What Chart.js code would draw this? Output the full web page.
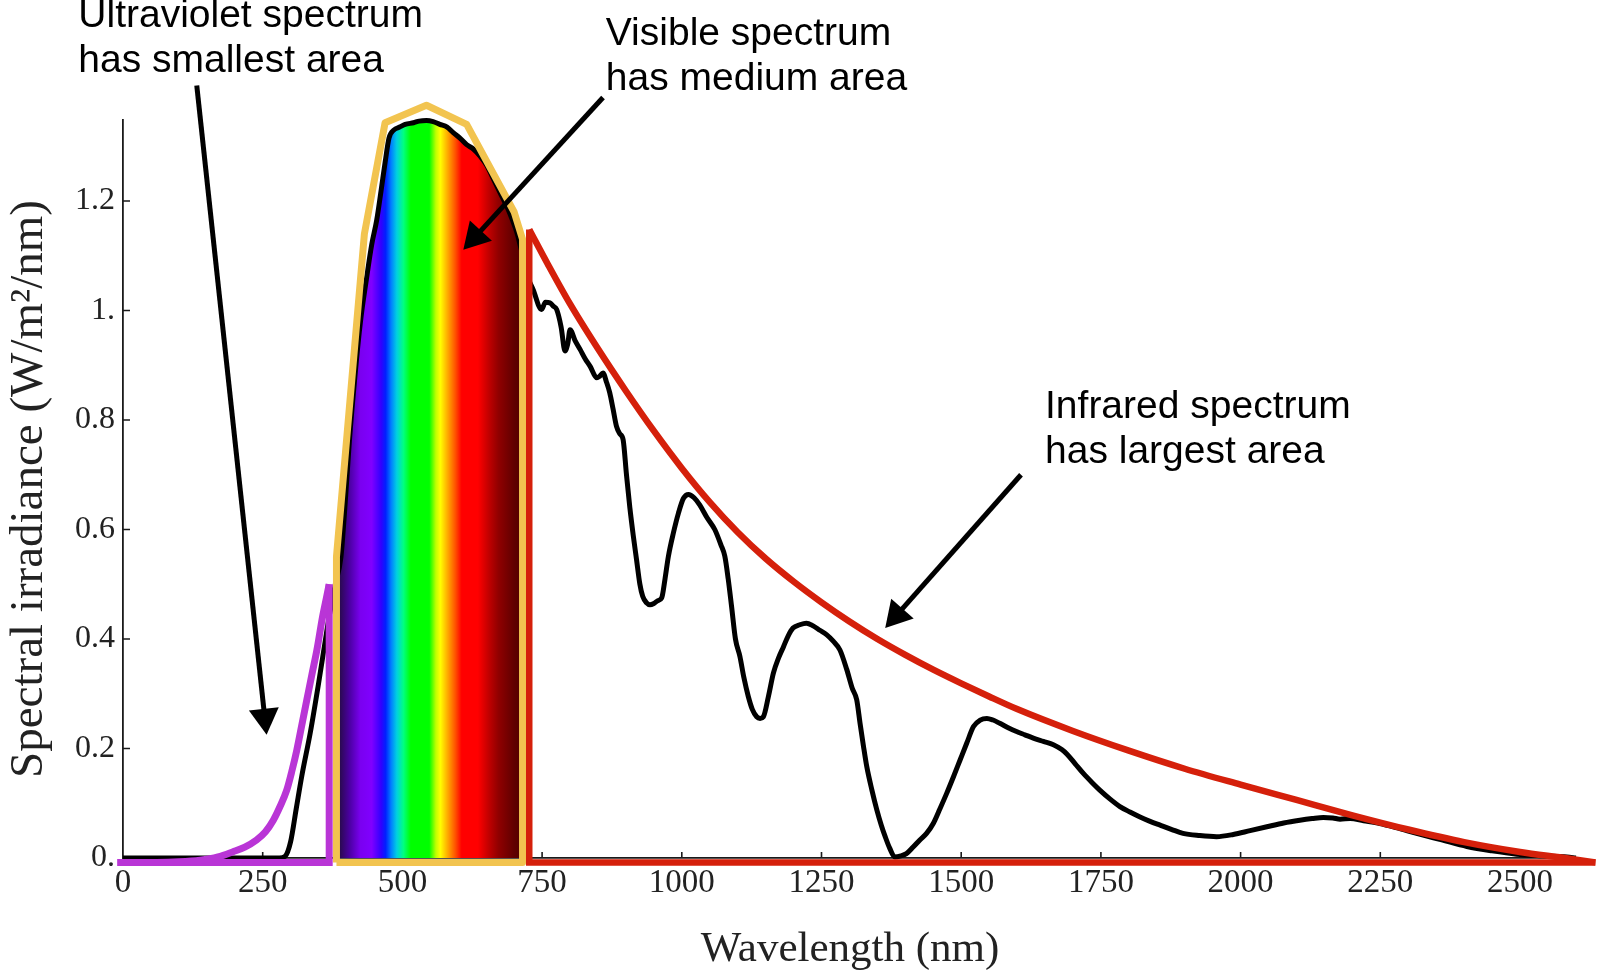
<!DOCTYPE html>
<html>
<head>
<meta charset="utf-8">
<title>Solar spectrum</title>
<script src="https://cdn.jsdelivr.net/npm/chart.js@4.4.1/dist/chart.umd.min.js"></script>
<style>
  html, body { margin: 0; padding: 0; background: #fff; }
</style>
</head>
<body>
<canvas id="spectrumChart" width="1600" height="971"></canvas>
<script>
// measured solar spectrum at sea level (black line)
const spectrumNm = [0, 100, 200, 280, 290, 300, 310, 320, 335, 350, 364, 370, 380, 390, 397, 405, 415, 425,
  436, 445, 454, 462, 469, 476, 485, 495, 505, 520, 530, 543, 555, 567, 580, 591, 603, 615, 627, 639, 651, 663,
  675, 687, 697, 705, 711, 718, 725, 734, 749, 756, 764, 770, 776, 784, 791, 796, 800, 809, 818, 827, 836, 848,
  853, 859, 865, 871, 877, 883, 889, 895, 901, 907, 913, 919, 925, 930, 937, 943, 950, 957, 964, 970, 976, 985,
  994, 1003, 1012, 1022, 1032, 1045, 1059, 1070, 1077, 1083, 1089, 1096, 1104, 1111, 1119, 1126, 1134, 1140,
  1146, 1155, 1164, 1173, 1182, 1190, 1199, 1211, 1223, 1235, 1247, 1259, 1271, 1283, 1295, 1305, 1313, 1319,
  1325, 1331, 1340, 1349, 1357, 1364, 1372, 1381, 1392, 1402, 1414, 1426, 1438, 1450, 1462, 1474, 1486, 1498,
  1510, 1522, 1534, 1546, 1557, 1569, 1584, 1599, 1614, 1629, 1647, 1665, 1680, 1689, 1704, 1719, 1734, 1748,
  1766, 1784, 1802, 1820, 1838, 1856, 1877, 1897, 1927, 1957, 1987, 2017, 2047, 2077, 2106, 2128, 2148, 2165,
  2178, 2196, 2220, 2249, 2280, 2315, 2360, 2405, 2450, 2494, 2540, 2584, 2600];
const spectrumIrr = [0, 0, 0, 0, 0.003, 0.03, 0.09, 0.15, 0.228, 0.319, 0.41, 0.447, 0.5, 0.55, 0.64, 0.76, 0.88, 0.98,
  1.06, 1.12, 1.165, 1.22, 1.27, 1.315, 1.33, 1.335, 1.34, 1.343, 1.346, 1.347, 1.345, 1.34, 1.335, 1.325, 1.315,
  1.303, 1.295, 1.282, 1.265, 1.24, 1.215, 1.19, 1.165, 1.142, 1.118, 1.09, 1.06, 1.038, 1.002, 1.015, 1.014,
  1.008, 1.002, 0.97, 0.926, 0.94, 0.965, 0.945, 0.929, 0.912, 0.898, 0.877, 0.88, 0.886, 0.87, 0.85, 0.82,
  0.789, 0.775, 0.764, 0.7, 0.64, 0.59, 0.545, 0.5, 0.478, 0.466, 0.4625, 0.465, 0.47, 0.475, 0.51, 0.551,
  0.594, 0.63, 0.657, 0.664, 0.658, 0.645, 0.622, 0.6, 0.572, 0.551, 0.51, 0.46, 0.4, 0.368, 0.33, 0.295,
  0.272, 0.258, 0.255, 0.258, 0.295, 0.338, 0.365, 0.386, 0.405, 0.42, 0.426, 0.429, 0.424, 0.416, 0.408,
  0.396, 0.38, 0.345, 0.31, 0.289, 0.246, 0.205, 0.167, 0.125, 0.088, 0.06, 0.039, 0.018, 0.002, 0.004, 0.008,
  0.02, 0.033, 0.045, 0.063, 0.09, 0.118, 0.148, 0.179, 0.21, 0.24, 0.252, 0.255, 0.252, 0.246, 0.238, 0.231,
  0.225, 0.219, 0.213, 0.207, 0.198, 0.19, 0.172, 0.154, 0.138, 0.124, 0.108, 0.094, 0.084, 0.075, 0.067,
  0.06, 0.052, 0.045, 0.041, 0.039, 0.043, 0.05, 0.057, 0.064, 0.069, 0.072, 0.074, 0.073, 0.071, 0.072,
  0.068, 0.063, 0.055, 0.045, 0.033, 0.021, 0.013, 0.007, 0.004, 0.002, 0];

// ultraviolet envelope (purple)
const uvCurveNm = [-10, 60, 100, 138, 170, 197, 218, 239, 255, 269, 281, 293, 302, 311, 320, 329, 338, 347, 357, 364, 369];
const uvCurveIrr = [-0.008, -0.008, -0.007, -0.004, 0.002, 0.0115, 0.02, 0.033, 0.048, 0.069, 0.094, 0.124, 0.158,
  0.197, 0.243, 0.289, 0.335, 0.38, 0.44, 0.475, 0.5];
const uvFrameNm = [-10, 369, 369];
const uvFrameIrr = [-0.008, -0.008, 0.5];

// visible envelope (yellow outline)
const visNm = [382, 382, 432, 469, 543, 615, 700, 715, 715, 382];
const visIrr = [-0.008, 0.55, 1.14, 1.343, 1.375, 1.34, 1.18, 1.13, -0.008, -0.008];

// infrared envelope (red)
const irCurveNm = [727, 760, 800, 850, 900, 950, 1000, 1050, 1100, 1150, 1200, 1250, 1300, 1350, 1400, 1450,
  1500, 1550, 1600, 1700, 1800, 1900, 2000, 2100, 2200, 2300, 2400, 2500, 2580, 2635];
const irCurveIrr = [1.148, 1.085, 1.012, 0.93, 0.853, 0.78, 0.712, 0.65, 0.595, 0.547, 0.505, 0.467, 0.432,
  0.4, 0.371, 0.344, 0.319, 0.295, 0.272, 0.232, 0.196, 0.163, 0.134, 0.106, 0.078, 0.052, 0.029, 0.011, 0,
  -0.008];
const irFrameNm = [727, 727, 2635];
const irFrameIrr = [1.148, -0.008, -0.008];

// rainbow under the visible part of the spectrum
const rainbowNm = [388, 405, 425, 445, 462, 470, 480, 490, 502, 515, 548, 560, 568, 580, 595, 606, 635, 655, 672, 700, 716];
const rainbowColors = ['#2a0a50', '#4a00a0', '#7a00f0', '#8000ff', '#3000ff', '#0020ff', '#0080ff', '#00d0e0',
  '#00ff80', '#00ff00', '#00ff00', '#c0ff00', '#ffff00', '#ffb000', '#ff5000', '#ff0000', '#ff0000', '#c00000',
  '#900000', '#600000', '#500000'];

const xTickValues = [0, 250, 500, 750, 1000, 1250, 1500, 1750, 2000, 2250, 2500];
const xTickLabels = ['0', '250', '500', '750', '1000', '1250', '1500', '1750', '2000', '2250', '2500'];
const yTickValues = [0, 0.2, 0.4, 0.6, 0.8, 1, 1.2];
const yTickLabels = ['0.', '0.2', '0.4', '0.6', '0.8', '1.', '1.2'];

const noteLines = [
  ['Ultraviolet spectrum', 'has smallest area'],
  ['Visible spectrum', 'has medium area'],
  ['Infrared spectrum', 'has largest area']
];

// where the notes sit and where their arrows point, in axis units
const notes = [
  { at: [-80, 1.518], from: [132, 1.411], to: [257, 0.225] },
  { at: [864, 1.485], from: [859, 1.389], to: [609, 1.111] },
  { at: [1650, 0.803], from: [1607, 0.7], to: [1364, 0.42] }
];

const toPoints = (xs, ys) => xs.map((x, i) => ({ x: x, y: ys[i] }));

const rainbowFill = ctx => {
  const chart = ctx.chart;
  if (!chart.chartArea) return 'rgba(0,0,0,0)';
  const sx = chart.scales.x;
  const first = rainbowNm[0], last = rainbowNm[rainbowNm.length - 1];
  const g = chart.ctx.createLinearGradient(sx.getPixelForValue(first), 0, sx.getPixelForValue(last), 0);
  rainbowNm.forEach((nm, i) => g.addColorStop((nm - first) / (last - first), rainbowColors[i]));
  return g;
};

const visibleIdx = spectrumNm.map((nm, i) => i).filter(i => spectrumNm[i] >= 380 && spectrumNm[i] <= 718);

// tick marks point into the plot
const innerTicks = {
  id: 'innerTicks',
  beforeDatasetsDraw(chart) {
    const { ctx, chartArea, scales: { x, y } } = chart;
    ctx.save();
    ctx.strokeStyle = '#1a1a1a';
    ctx.lineWidth = 1.6;
    ctx.beginPath();
    xTickValues.forEach(v => {
      if (v === 0) return;
      const px = x.getPixelForValue(v);
      ctx.moveTo(px, chartArea.bottom);
      ctx.lineTo(px, chartArea.bottom - 6);
    });
    yTickValues.forEach(v => {
      if (v === 0) return;
      const py = y.getPixelForValue(v);
      ctx.moveTo(chartArea.left, py);
      ctx.lineTo(chartArea.left + 7, py);
    });
    ctx.stroke();
    ctx.restore();
  }
};

const drawArrow = (ctx, x1, y1, x2, y2) => {
  const len = Math.hypot(x2 - x1, y2 - y1);
  const ux = (x2 - x1) / len, uy = (y2 - y1) / len;
  const head = 26, half = 15;
  const bx = x2 - ux * head, by = y2 - uy * head;
  ctx.beginPath();
  ctx.moveTo(x1, y1);
  ctx.lineTo(bx + ux * 2, by + uy * 2);
  ctx.stroke();
  ctx.beginPath();
  ctx.moveTo(x2, y2);
  ctx.lineTo(bx - uy * half, by + ux * half);
  ctx.lineTo(bx + uy * half, by - ux * half);
  ctx.closePath();
  ctx.fill();
};

const notesPlugin = {
  id: 'notes',
  afterDatasetsDraw(chart) {
    const { ctx, scales: { x, y } } = chart;
    ctx.save();
    ctx.fillStyle = '#000';
    ctx.strokeStyle = '#000';
    ctx.lineWidth = 5;
    ctx.font = '39px "Liberation Sans", Arial, sans-serif';
    ctx.textAlign = 'left';
    ctx.textBaseline = 'alphabetic';
    notes.forEach((n, i) => {
      const px = x.getPixelForValue(n.at[0]);
      const py = y.getPixelForValue(n.at[1]);
      noteLines[i].forEach((line, k) => ctx.fillText(line, px, py + k * 45));
      drawArrow(ctx, x.getPixelForValue(n.from[0]), y.getPixelForValue(n.from[1]),
        x.getPixelForValue(n.to[0]), y.getPixelForValue(n.to[1]));
    });
    ctx.restore();
  }
};

const serif = '"Liberation Serif", "Times New Roman", serif';

new Chart(document.getElementById('spectrumChart'), {
  type: 'line',
  data: {
    datasets: [
      {
        label: 'Infrared envelope',
        data: toPoints(irCurveNm, irCurveIrr),
        borderColor: '#d5200b',
        borderWidth: 6.5,
        cubicInterpolationMode: 'monotone',
        fill: false,
        clip: false,
        order: 1
      },
      {
        label: 'Infrared frame',
        data: toPoints(irFrameNm, irFrameIrr),
        borderColor: '#d5200b',
        borderWidth: 6.5,
        fill: false,
        clip: false,
        order: 1
      },
      {
        label: 'Visible envelope',
        data: toPoints(visNm, visIrr),
        borderColor: '#f2c450',
        borderWidth: 7,
        borderJoinStyle: 'round',
        fill: false,
        clip: false,
        order: 2
      },
      {
        label: 'Ultraviolet envelope',
        data: toPoints(uvCurveNm, uvCurveIrr),
        borderColor: '#b935d6',
        borderWidth: 7,
        cubicInterpolationMode: 'monotone',
        fill: false,
        clip: false,
        order: 3
      },
      {
        label: 'Ultraviolet frame',
        data: toPoints(uvFrameNm, uvFrameIrr),
        borderColor: '#b935d6',
        borderWidth: 7,
        fill: false,
        clip: false,
        order: 3
      },
      {
        label: 'Spectrum',
        data: toPoints(spectrumNm, spectrumIrr),
        borderColor: '#000',
        borderWidth: 5,
        borderJoinStyle: 'round',
        cubicInterpolationMode: 'monotone',
        fill: false,
        clip: false,
        order: 4
      },
      {
        label: 'Visible colours',
        data: visibleIdx.map(i => ({ x: spectrumNm[i], y: spectrumIrr[i] })),
        borderWidth: 0,
        borderColor: 'rgba(0,0,0,0)',
        backgroundColor: rainbowFill,
        cubicInterpolationMode: 'monotone',
        fill: 'origin',
        order: 5
      }
    ]
  },
  options: {
    responsive: false,
    animation: false,
    devicePixelRatio: 1,
    layout: { padding: { top: 120, right: 23, left: 0, bottom: 0 } },
    elements: { point: { radius: 0 }, line: { tension: 0 } },
    plugins: { legend: { display: false }, tooltip: { enabled: false } },
    scales: {
      x: {
        type: 'linear',
        min: 0,
        max: 2602,
        afterFit: s => { s.height = 113; },
        afterBuildTicks: s => { s.ticks = xTickValues.map(v => ({ value: v })); },
        grid: { display: false, drawTicks: false },
        border: { color: '#1a1a1a', width: 1.8 },
        ticks: {
          autoSkip: false,
          maxRotation: 0,
          padding: 6,
          color: '#222',
          font: { family: serif, size: 33 },
          callback: v => xTickLabels[xTickValues.indexOf(v)]
        },
        title: {
          display: true,
          text: 'Wavelength (nm)',
          color: '#222',
          padding: { top: 0, bottom: 0 },
          font: { family: serif, size: 43, lineHeight: 1 }
        }
      },
      y: {
        type: 'linear',
        min: 0,
        max: 1.348,
        afterFit: s => { s.width = 123; },
        afterBuildTicks: s => { s.ticks = yTickValues.map(v => ({ value: v })); },
        grid: { display: false, drawTicks: false },
        border: { color: '#1a1a1a', width: 1.8 },
        ticks: {
          padding: 8,
          color: '#222',
          font: { family: serif, size: 32 },
          callback: v => yTickLabels[yTickValues.indexOf(v)]
        },
        title: {
          display: true,
          text: 'Spectral irradiance (W/m²/nm)',
          color: '#222',
          padding: { top: 6, bottom: 0 },
          font: { family: serif, size: 47, lineHeight: 1 }
        }
      }
    }
  },
  plugins: [innerTicks, notesPlugin]
});
</script>
</body>
</html>
